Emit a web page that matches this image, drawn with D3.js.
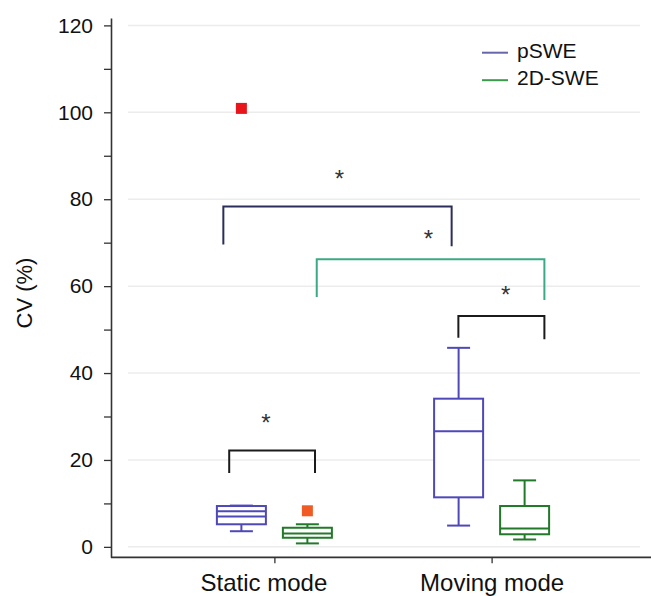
<!DOCTYPE html>
<html>
<head>
<meta charset="utf-8">
<script src="https://cdn.jsdelivr.net/npm/d3@7"></script>
<style>
  body { margin: 0; background: #fff; }
  text { font-family: Arial, "Liberation Sans", Helvetica, sans-serif; fill: #111; }
</style>
</head>
<body>
<div id="chart"></div>
<script>
// box plot values (CV %)
var groups = ["Static mode", "Moving mode"];
var series = ["pSWE", "2D-SWE"];

// one entry per group x series: [min, q1, median, q3, max]
var boxes = [
  { group: "Static mode", series: "pSWE",   stats: [3.6, 5.2, 7.0, 9.4, 9.5] },
  { group: "Static mode", series: "2D-SWE", stats: [0.8, 2.1, 3.1, 4.4, 5.2] },
  { group: "Moving mode", series: "pSWE",   stats: [4.9, 11.4, 26.6, 34.1, 45.8] },
  { group: "Moving mode", series: "2D-SWE", stats: [1.7, 2.9, 4.2, 9.4, 15.3] }
];
// extra line inside the static pSWE box (mean)
var means = [
  { group: "Static mode", series: "pSWE", value: 8.2 }
];
var outliers = [
  { group: "Static mode", series: "pSWE",   value: 100.9, color: "#e8161b" },
  { group: "Static mode", series: "2D-SWE", value: 8.3,   color: "#f05a24" }
];

// significance brackets, x in category units (Static mode = 1, Moving mode = 2)
var brackets = [
  { x1: 0.792, x2: 1.187, top: 22.2, leg1: 17.0, leg2: 17.0, color: "#1b1b1b" },
  { x1: 0.765, x2: 1.816, top: 78.3, leg1: 69.6, leg2: 69.2, color: "#2b2e5c" },
  { x1: 1.195, x2: 2.243, top: 66.2, leg1: 57.5, leg2: 56.8, color: "#3aaa86" },
  { x1: 1.847, x2: 2.243, top: 53.1, leg1: 48.1, leg2: 47.8, color: "#1b1b1b" }
];
var stars = [
  { x: 0.961, y: 29.7 },
  { x: 1.299, y: 85.9 },
  { x: 1.709, y: 72.2 },
  { x: 2.065, y: 59.3 }
];

var yTicks = d3.range(0, 121, 10);
var gridValues = d3.range(0, 121, 20);

var colors = { "pSWE": "#4f48b8", "2D-SWE": "#22792a" };
var legendColors = { "pSWE": "#6666a8", "2D-SWE": "#3c9a4c" };

var width = 651, height = 596;

var svg = d3.select("#chart").append("svg")
  .attr("width", width)
  .attr("height", height);

var y = d3.scaleLinear().domain([-2.4, 121.7]).range([557.3, 18]);
var x = d3.scalePoint().domain(groups).range([113, 653]).padding(0.743);
var xc = d3.scaleLinear().domain([1, 2]).range([x(groups[0]), x(groups[1])]);
var xs = d3.scalePoint().domain(series).range([-33, 33]);
var boxW = 49, capW = 23;

// gridlines
svg.append("g").attr("class", "grid")
  .selectAll("line").data(gridValues).enter().append("line")
    .attr("x1", 128).attr("x2", 640)
    .attr("y1", function (d) { return y(d); })
    .attr("y2", function (d) { return y(d); })
    .style("stroke", "#ececec")
    .style("stroke-width", 1.5);

// y axis
var yAxis = d3.axisLeft(y)
  .tickValues(yTicks)
  .tickSize(7)
  .tickSizeOuter(0)
  .tickPadding(11)
  .tickFormat(function (d) { return d % 20 === 0 ? d : ""; });

var gy = svg.append("g")
  .attr("transform", "translate(111,0)")
  .call(yAxis);
gy.selectAll("text").style("font-size", "21px").style("fill", "#111");
gy.selectAll("line").style("stroke", "#333").style("stroke-width", 1.3);
gy.select(".domain").style("stroke", "#333").style("stroke-width", 1.6);

// x axis
var xAxis = d3.axisBottom(x).tickSize(6).tickSizeOuter(0).tickPadding(11);
var gx = svg.append("g")
  .attr("transform", "translate(0,557.3)")
  .call(xAxis);
gx.select(".domain").attr("d", "M111,0H651").style("stroke", "#333").style("stroke-width", 1.8);
gx.selectAll("line").style("stroke", "#333").style("stroke-width", 1.3);
gx.selectAll("text").style("font-size", "24px").style("fill", "#111")
  .attr("dx", function (d, i) { return i === 0 ? -11 : 0; });

// y title
svg.append("text")
  .attr("transform", "translate(31.7,293) rotate(-90)")
  .attr("text-anchor", "middle")
  .style("font-size", "22px")
  .text("CV (%)");

// boxes
var bx = svg.append("g").attr("class", "boxes")
  .selectAll("g").data(boxes).enter().append("g")
    .attr("transform", function (d) { return "translate(" + (x(d.group) + xs(d.series)) + ",0)"; })
    .style("stroke", function (d) { return colors[d.series]; })
    .style("stroke-width", 2)
    .style("fill", "none");

bx.append("line")
  .attr("x1", 0).attr("x2", 0)
  .attr("y1", function (d) { return y(d.stats[0]); })
  .attr("y2", function (d) { return y(d.stats[4]); });
bx.append("rect")
  .attr("x", -boxW / 2).attr("width", boxW)
  .attr("y", function (d) { return y(d.stats[3]); })
  .attr("height", function (d) { return y(d.stats[1]) - y(d.stats[3]); })
  .style("fill", "#fff");
bx.append("line")
  .attr("x1", -boxW / 2).attr("x2", boxW / 2)
  .attr("y1", function (d) { return y(d.stats[2]); })
  .attr("y2", function (d) { return y(d.stats[2]); });
bx.selectAll(".cap")
  .data(function (d) { return [d.stats[0], d.stats[4]]; })
  .enter().append("line")
    .attr("class", "cap")
    .attr("x1", -capW / 2).attr("x2", capW / 2)
    .attr("y1", function (d) { return y(d); })
    .attr("y2", function (d) { return y(d); });

svg.append("g").selectAll("line").data(means).enter().append("line")
  .attr("x1", function (d) { return x(d.group) + xs(d.series) - boxW / 2; })
  .attr("x2", function (d) { return x(d.group) + xs(d.series) + boxW / 2; })
  .attr("y1", function (d) { return y(d.value); })
  .attr("y2", function (d) { return y(d.value); })
  .style("stroke", function (d) { return colors[d.series]; })
  .style("stroke-width", 2);

// outliers
svg.append("g").selectAll("rect").data(outliers).enter().append("rect")
  .attr("x", function (d) { return x(d.group) + xs(d.series) - 5.5; })
  .attr("y", function (d) { return y(d.value) - 5.5; })
  .attr("width", 11).attr("height", 11)
  .style("fill", function (d) { return d.color; });

// brackets
svg.append("g").selectAll("path").data(brackets).enter().append("path")
  .attr("d", function (d) {
    return "M" + xc(d.x1) + "," + y(d.leg1) +
      "V" + y(d.top) + "H" + xc(d.x2) + "V" + y(d.leg2);
  })
  .style("fill", "none")
  .style("stroke", function (d) { return d.color; })
  .style("stroke-width", 2);

svg.append("g").selectAll("text").data(stars).enter().append("text")
  .attr("x", function (d) { return xc(d.x); })
  .attr("y", function (d) { return y(d.y); })
  .attr("dy", "0.57em")
  .attr("text-anchor", "middle")
  .style("font-size", "24px")
  .style("fill", "#333")
  .text("*");

// legend
var legend = svg.append("g").selectAll("g").data(series).enter().append("g")
  .attr("transform", function (d, i) { return "translate(482," + (52.7 + i * 27.5) + ")"; });
legend.append("line")
  .attr("x1", 0).attr("x2", 26)
  .style("stroke", function (d) { return legendColors[d]; })
  .style("stroke-width", 2);
legend.append("text")
  .attr("x", 35).attr("y", 4.8)
  .style("font-size", "21px")
  .text(function (d) { return d; });
</script>
</body>
</html>
